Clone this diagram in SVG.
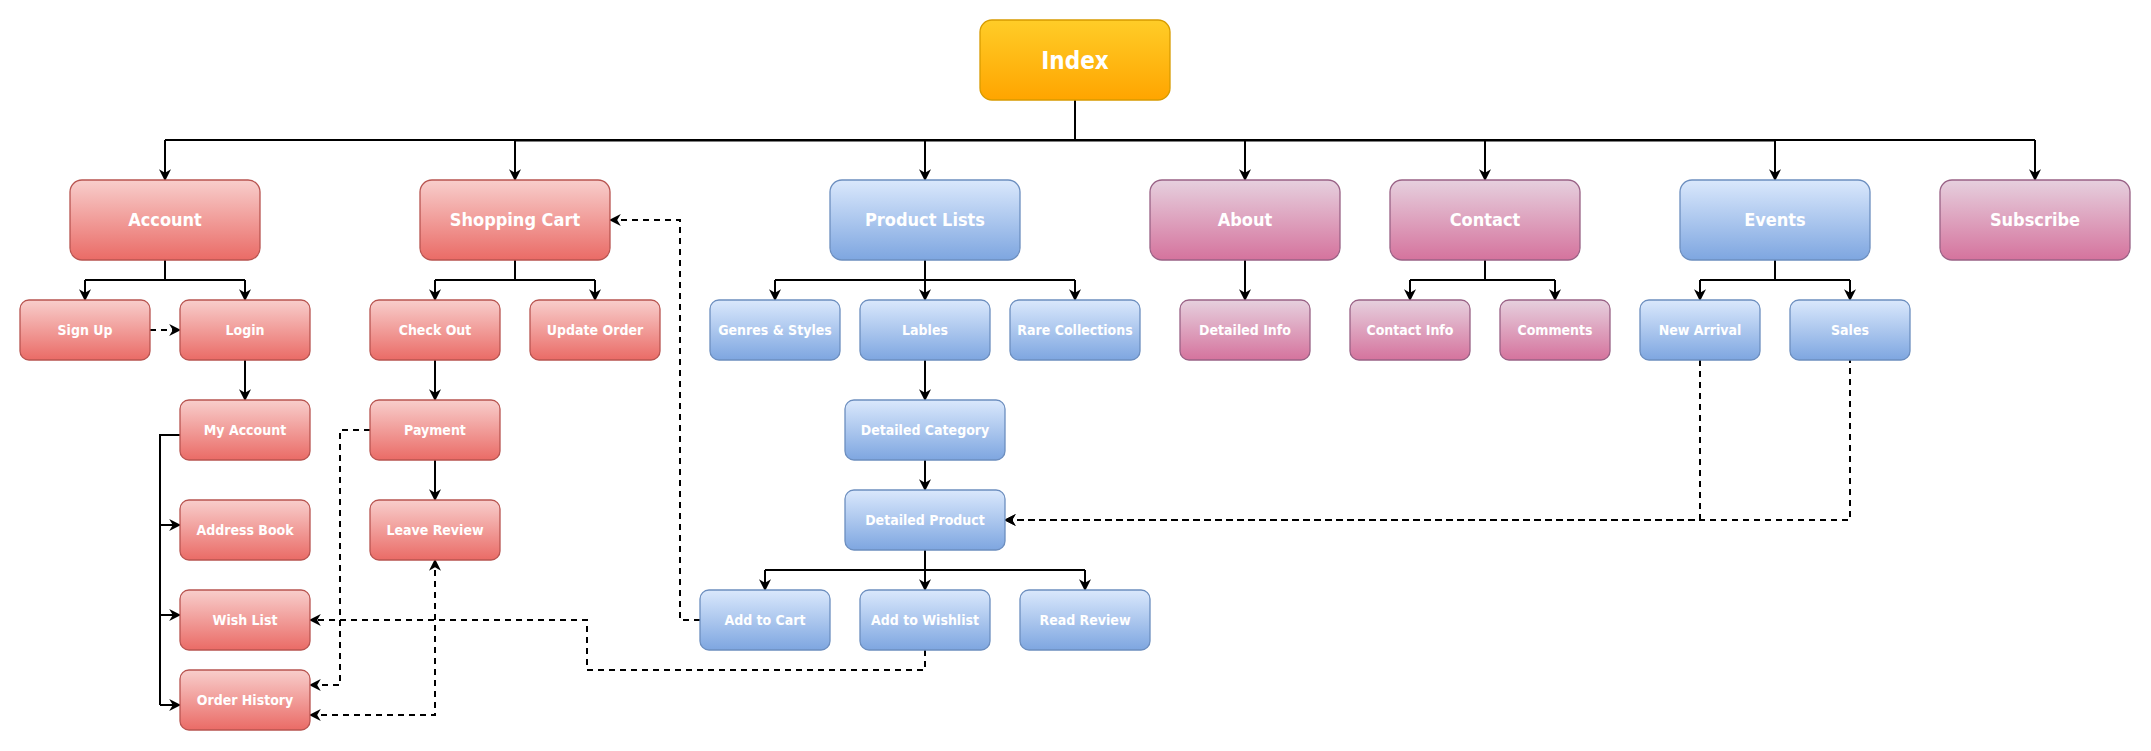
<svg xmlns="http://www.w3.org/2000/svg" width="2151" height="751" viewBox="0 0 2151 751">
<defs>
<linearGradient id="gRed" x1="0" y1="0" x2="0" y2="1"><stop offset="0" stop-color="#f8cecc"/><stop offset="1" stop-color="#ea6b66"/></linearGradient>
<linearGradient id="gBlue" x1="0" y1="0" x2="0" y2="1"><stop offset="0" stop-color="#dae8fc"/><stop offset="1" stop-color="#7ea6e0"/></linearGradient>
<linearGradient id="gPink" x1="0" y1="0" x2="0" y2="1"><stop offset="0" stop-color="#e6d0de"/><stop offset="1" stop-color="#d5739d"/></linearGradient>
<linearGradient id="gGold" x1="0" y1="0" x2="0" y2="1"><stop offset="0" stop-color="#ffcd28"/><stop offset="1" stop-color="#ffa500"/></linearGradient>
<marker id="arr" viewBox="0 0 10 10" refX="9" refY="5" markerWidth="6" markerHeight="6" orient="auto-start-reverse" markerUnits="userSpaceOnUse">
<path d="M0,0 L10,5 L0,10 L3,5 z" fill="#000"/>
</marker>
<marker id="arrS" viewBox="0 0 10 10" refX="9" refY="5" markerWidth="12" markerHeight="12" orient="auto-start-reverse" markerUnits="userSpaceOnUse">
<path d="M0,0 L10,5 L0,10 L3,5 z" fill="#000"/>
</marker>
</defs>
<style>
.red{fill:url(#gRed);stroke:#b85450;stroke-width:1.3}
.blue{fill:url(#gBlue);stroke:#6c8ebf;stroke-width:1.3}
.pink{fill:url(#gPink);stroke:#996185;stroke-width:1.3}
.gold{fill:url(#gGold);stroke:#d79b00;stroke-width:1.3}
text{font-family:"DejaVu Sans Condensed","DejaVu Sans",sans-serif;font-stretch:condensed;font-weight:bold;fill:#fff;text-anchor:middle}
.t1{font-size:18px}
.t2{font-size:14px}
.t0{font-size:24px}
.e{fill:none;stroke:#000;stroke-width:2}
.d{fill:none;stroke:#000;stroke-width:2;stroke-dasharray:6 5}
.a{marker-end:url(#arrS)}
.ab{marker-start:url(#arrS);marker-end:url(#arrS)}
</style>

<g id="connectors">
<path class="e" d="M1075,100 V141" stroke-width="3"/>
<path class="e" d="M515,140.5 H1775" stroke-width="3"/>
<path class="e" d="M165,140 H2035"/>
<path class="e a" d="M165,140 V180"/>
<path class="e a" d="M515,140 V180"/>
<path class="e a" d="M925,140 V180"/>
<path class="e a" d="M1245,140 V180"/>
<path class="e a" d="M1485,140 V180"/>
<path class="e a" d="M1775,140 V180"/>
<path class="e a" d="M2035,140 V180"/>

<path class="e" d="M165,260 V280 M85,280 H245 M435,280 H595 M515,260 V280 M925,260 V280 M775,280 H1075 M1485,260 V280 M1410,280 H1555 M1775,260 V280 M1700,280 H1850"/>
<path class="e a" d="M85,280 V300"/>
<path class="e a" d="M245,280 V300"/>
<path class="e a" d="M435,280 V300"/>
<path class="e a" d="M595,280 V300"/>
<path class="e a" d="M775,280 V300"/>
<path class="e a" d="M925,280 V300"/>
<path class="e a" d="M1075,280 V300"/>
<path class="e a" d="M1245,260 V300"/>
<path class="e a" d="M1410,280 V300"/>
<path class="e a" d="M1555,280 V300"/>
<path class="e a" d="M1700,280 V300"/>
<path class="e a" d="M1850,280 V300"/>

<path class="e a" d="M245,360 V400"/>
<path class="e a" d="M435,360 V400"/>
<path class="e a" d="M925,360 V400"/>
<path class="e a" d="M435,460 V500"/>
<path class="e a" d="M925,460 V490"/>
<path class="e" d="M925,550 V570 M765,570 H1085"/>
<path class="e a" d="M765,570 V590"/>
<path class="e a" d="M925,570 V590"/>
<path class="e a" d="M1085,570 V590"/>

<path class="e" d="M180,435 H160 V705" stroke-width="2.5"/>
<path class="e a" d="M160,525 H180"/>
<path class="e a" d="M160,615 H180"/>
<path class="e a" d="M160,705 H180"/>

<path class="d a" d="M150,330 H180"/>
<path class="d a" d="M700,620 H680 V220 H610"/>
<path class="d a" d="M370,430 H340 V685 H310"/>
<path class="d ab" d="M310,715 H435 V560"/>
<path class="d a" d="M925,650 V670 H587 V620 H310"/>
<path class="d a" d="M1700,360 V520 H1005"/>
<path class="d a" d="M1850,360 V520 H1005" stroke-dashoffset="3"/>
</g>

<g id="index"><rect class="gold" x="980" y="20" width="190" height="80" rx="12"/><text class="t0" x="1075" y="69">Index</text></g>

<g id="account"><rect class="red" x="70" y="180" width="190" height="80" rx="12"/><text class="t1" x="165" y="226">Account</text></g>
<g id="shopping-cart"><rect class="red" x="420" y="180" width="190" height="80" rx="12"/><text class="t1" x="515" y="226">Shopping Cart</text></g>
<g id="product-lists"><rect class="blue" x="830" y="180" width="190" height="80" rx="12"/><text class="t1" x="925" y="226">Product Lists</text></g>
<g id="about"><rect class="pink" x="1150" y="180" width="190" height="80" rx="12"/><text class="t1" x="1245" y="226">About</text></g>
<g id="contact"><rect class="pink" x="1390" y="180" width="190" height="80" rx="12"/><text class="t1" x="1485" y="226">Contact</text></g>
<g id="events"><rect class="blue" x="1680" y="180" width="190" height="80" rx="12"/><text class="t1" x="1775" y="226">Events</text></g>
<g id="subscribe"><rect class="pink" x="1940" y="180" width="190" height="80" rx="12"/><text class="t1" x="2035" y="226">Subscribe</text></g>

<g id="sign-up"><rect class="red" x="20" y="300" width="130" height="60" rx="9"/><text class="t2" x="85" y="335">Sign Up</text></g>
<g id="login"><rect class="red" x="180" y="300" width="130" height="60" rx="9"/><text class="t2" x="245" y="335">Login</text></g>
<g id="check-out"><rect class="red" x="370" y="300" width="130" height="60" rx="9"/><text class="t2" x="435" y="335">Check Out</text></g>
<g id="update-order"><rect class="red" x="530" y="300" width="130" height="60" rx="9"/><text class="t2" x="595" y="335">Update Order</text></g>
<g id="genres-styles"><rect class="blue" x="710" y="300" width="130" height="60" rx="9"/><text class="t2" x="775" y="335">Genres &amp; Styles</text></g>
<g id="lables"><rect class="blue" x="860" y="300" width="130" height="60" rx="9"/><text class="t2" x="925" y="335">Lables</text></g>
<g id="rare-collections"><rect class="blue" x="1010" y="300" width="130" height="60" rx="9"/><text class="t2" x="1075" y="335">Rare Collections</text></g>
<g id="detailed-info"><rect class="pink" x="1180" y="300" width="130" height="60" rx="9"/><text class="t2" x="1245" y="335">Detailed Info</text></g>
<g id="contact-info"><rect class="pink" x="1350" y="300" width="120" height="60" rx="9"/><text class="t2" x="1410" y="335">Contact Info</text></g>
<g id="comments"><rect class="pink" x="1500" y="300" width="110" height="60" rx="9"/><text class="t2" x="1555" y="335">Comments</text></g>
<g id="new-arrival"><rect class="blue" x="1640" y="300" width="120" height="60" rx="9"/><text class="t2" x="1700" y="335">New Arrival</text></g>
<g id="sales"><rect class="blue" x="1790" y="300" width="120" height="60" rx="9"/><text class="t2" x="1850" y="335">Sales</text></g>

<g id="my-account"><rect class="red" x="180" y="400" width="130" height="60" rx="9"/><text class="t2" x="245" y="435">My Account</text></g>
<g id="payment"><rect class="red" x="370" y="400" width="130" height="60" rx="9"/><text class="t2" x="435" y="435">Payment</text></g>
<g id="detailed-category"><rect class="blue" x="845" y="400" width="160" height="60" rx="9"/><text class="t2" x="925" y="435">Detailed Category</text></g>
<g id="address-book"><rect class="red" x="180" y="500" width="130" height="60" rx="9"/><text class="t2" x="245" y="535">Address Book</text></g>
<g id="leave-review"><rect class="red" x="370" y="500" width="130" height="60" rx="9"/><text class="t2" x="435" y="535">Leave Review</text></g>
<g id="detailed-product"><rect class="blue" x="845" y="490" width="160" height="60" rx="9"/><text class="t2" x="925" y="525">Detailed Product</text></g>
<g id="wish-list"><rect class="red" x="180" y="590" width="130" height="60" rx="9"/><text class="t2" x="245" y="625">Wish List</text></g>
<g id="add-to-cart"><rect class="blue" x="700" y="590" width="130" height="60" rx="9"/><text class="t2" x="765" y="625">Add to Cart</text></g>
<g id="add-to-wishlist"><rect class="blue" x="860" y="590" width="130" height="60" rx="9"/><text class="t2" x="925" y="625">Add to Wishlist</text></g>
<g id="read-review"><rect class="blue" x="1020" y="590" width="130" height="60" rx="9"/><text class="t2" x="1085" y="625">Read Review</text></g>
<g id="order-history"><rect class="red" x="180" y="670" width="130" height="60" rx="9"/><text class="t2" x="245" y="705">Order History</text></g>
</svg>
